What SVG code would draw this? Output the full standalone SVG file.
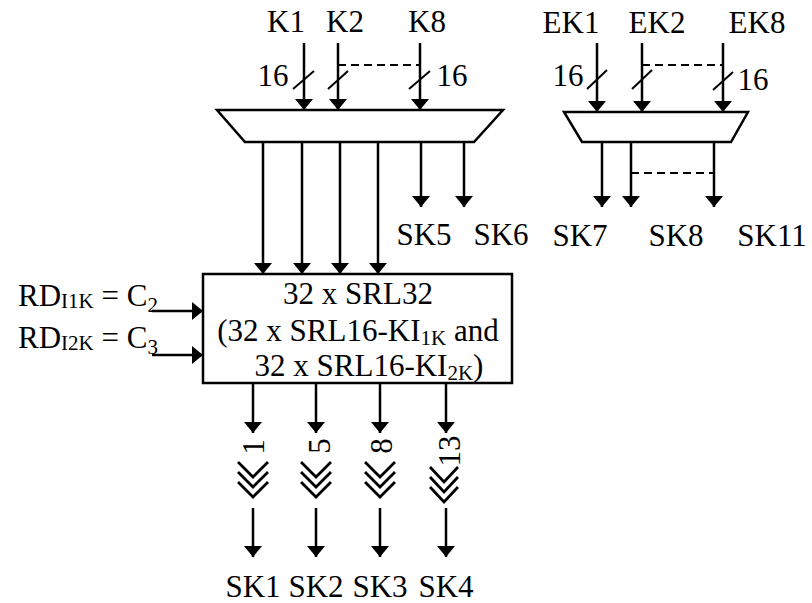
<svg xmlns="http://www.w3.org/2000/svg" width="812" height="603" viewBox="0 0 812 603">
<defs>
<marker id="ah" viewBox="0 0 11 18" refX="11" refY="9" markerWidth="11" markerHeight="18" orient="auto" markerUnits="userSpaceOnUse"><path d="M0,0 L11,9 L0,18 z" fill="#000"/></marker>
<style>
.t{font-family:"Liberation Serif","Times New Roman",serif;font-size:31px;fill:#000}
.w{stroke:#000;stroke-width:2.5;fill:none}
.a{stroke:#000;stroke-width:2.5;fill:none;marker-end:url(#ah)}
.d{stroke:#000;stroke-width:2;fill:none;stroke-dasharray:8 5}
.s{stroke:#000;stroke-width:2;fill:none}
.c{stroke:#000;stroke-width:2.8;fill:none}
.sub{font-size:21px}
</style>
</defs>
<rect width="812" height="603" fill="#fff"/>

<g id="mux1">
<polygon points="217,110 503,110 474,142 245,142" fill="#fff" stroke="#000" stroke-width="2.5"/>
</g>
<g id="mux2">
<polygon points="564,112 748,112 731,142 582,142" fill="#fff" stroke="#000" stroke-width="2.5"/>
</g>
<g id="srl">
<rect x="203" y="274" width="309" height="109" fill="#fff" stroke="#000" stroke-width="2.5"/>
<text class="t" x="358" y="304" text-anchor="middle">32 x SRL32</text>
<text class="t" x="358" y="341" text-anchor="middle">(32 x SRL16-KI<tspan class="sub" dy="4">1K</tspan><tspan dy="-4"> and</tspan></text>
<text class="t" x="369" y="376" text-anchor="middle">32 x SRL16-KI<tspan class="sub" dy="4">2K</tspan><tspan dy="-4">)</tspan></text>
</g>

<g id="labels">
<text class="t" x="286" y="32" text-anchor="middle">K1</text>
<text class="t" x="345" y="32" text-anchor="middle">K2</text>
<text class="t" x="427" y="32" text-anchor="middle">K8</text>
<text class="t" x="273" y="86" text-anchor="middle">16</text>
<text class="t" x="452" y="86" text-anchor="middle">16</text>
<text class="t" x="571" y="33" text-anchor="middle">EK1</text>
<text class="t" x="657" y="33" text-anchor="middle">EK2</text>
<text class="t" x="757" y="33" text-anchor="middle">EK8</text>
<text class="t" x="568" y="86" text-anchor="middle">16</text>
<text class="t" x="753" y="90" text-anchor="middle">16</text>
<text class="t" x="424" y="245" text-anchor="middle">SK5</text>
<text class="t" x="501" y="245" text-anchor="middle">SK6</text>
<text class="t" x="580" y="246" text-anchor="middle">SK7</text>
<text class="t" x="676" y="246" text-anchor="middle">SK8</text>
<text class="t" x="772" y="246" text-anchor="middle">SK11</text>
<text class="t" x="18" y="306">RD<tspan class="sub" dy="2">I1K</tspan><tspan dy="-2"> = C</tspan><tspan class="sub" dy="6">2</tspan></text>
<text class="t" x="18" y="348">RD<tspan class="sub" dy="2">I2K</tspan><tspan dy="-2"> = C</tspan><tspan class="sub" dy="6">3</tspan></text>
<text class="t" transform="translate(264,447) rotate(-90)" text-anchor="middle">1</text>
<text class="t" transform="translate(330,446) rotate(-90)" text-anchor="middle">5</text>
<text class="t" transform="translate(392,446) rotate(-90)" text-anchor="middle">8</text>
<text class="t" transform="translate(460,451) rotate(-90)" text-anchor="middle">13</text>
<text class="t" x="253" y="597" text-anchor="middle">SK1</text>
<text class="t" x="316" y="597" text-anchor="middle">SK2</text>
<text class="t" x="380" y="597" text-anchor="middle">SK3</text>
<text class="t" x="446" y="597" text-anchor="middle">SK4</text>
</g>

<g id="connectors">
<line class="a" x1="304" y1="43" x2="304" y2="110"/>
<line class="a" x1="338" y1="43" x2="338" y2="110"/>
<line class="a" x1="420" y1="43" x2="420" y2="110"/>
<line class="s" x1="293" y1="89" x2="314" y2="71"/>
<line class="s" x1="328" y1="89" x2="348" y2="71"/>
<line class="s" x1="409" y1="89" x2="430" y2="71"/>
<line class="d" x1="338" y1="65" x2="420" y2="65"/>

<line class="a" x1="597" y1="43" x2="597" y2="112"/>
<line class="a" x1="642" y1="43" x2="642" y2="112"/>
<line class="a" x1="723" y1="43" x2="723" y2="112"/>
<line class="s" x1="587" y1="89" x2="607" y2="70"/>
<line class="s" x1="632" y1="89" x2="652" y2="70"/>
<line class="s" x1="713" y1="90" x2="733" y2="72"/>
<line class="d" x1="642" y1="65" x2="723" y2="65"/>

<line class="a" x1="602" y1="142" x2="602" y2="207"/>
<line class="a" x1="631" y1="142" x2="631" y2="207"/>
<line class="a" x1="714" y1="142" x2="714" y2="207"/>
<line class="d" x1="631" y1="173" x2="714" y2="173"/>

<line class="a" x1="263" y1="142" x2="263" y2="274"/>
<line class="a" x1="302" y1="142" x2="302" y2="274"/>
<line class="a" x1="340" y1="142" x2="340" y2="274"/>
<line class="a" x1="378" y1="142" x2="378" y2="274"/>
<line class="a" x1="421" y1="142" x2="421" y2="207"/>
<line class="a" x1="464" y1="142" x2="464" y2="207"/>

<line class="a" x1="152" y1="311" x2="203" y2="311"/>
<line class="a" x1="152" y1="355" x2="203" y2="355"/>

<line class="a" x1="253" y1="383" x2="253" y2="433"/>
<line class="a" x1="316" y1="383" x2="316" y2="433"/>
<line class="a" x1="380" y1="383" x2="380" y2="433"/>
<line class="a" x1="446" y1="383" x2="446" y2="433"/>

<path class="c" d="M238,462 L253,477 L268,462 M238,472 L253,487 L268,472 M238,482 L253,497 L268,482"/>
<path class="c" d="M301,462 L316,477 L331,462 M301,472 L316,487 L331,472 M301,482 L316,497 L331,482"/>
<path class="c" d="M365,462 L380,477 L395,462 M365,472 L380,487 L395,472 M365,482 L380,497 L395,482"/>
<path class="c" d="M430,467 L444,482 L458,467 M430,477 L444,492 L458,477 M430,487 L444,502 L458,487"/>

<line class="a" x1="253" y1="508" x2="253" y2="557"/>
<line class="a" x1="316" y1="508" x2="316" y2="557"/>
<line class="a" x1="380" y1="508" x2="380" y2="557"/>
<line class="a" x1="446" y1="508" x2="446" y2="557"/>
</g>
</svg>
